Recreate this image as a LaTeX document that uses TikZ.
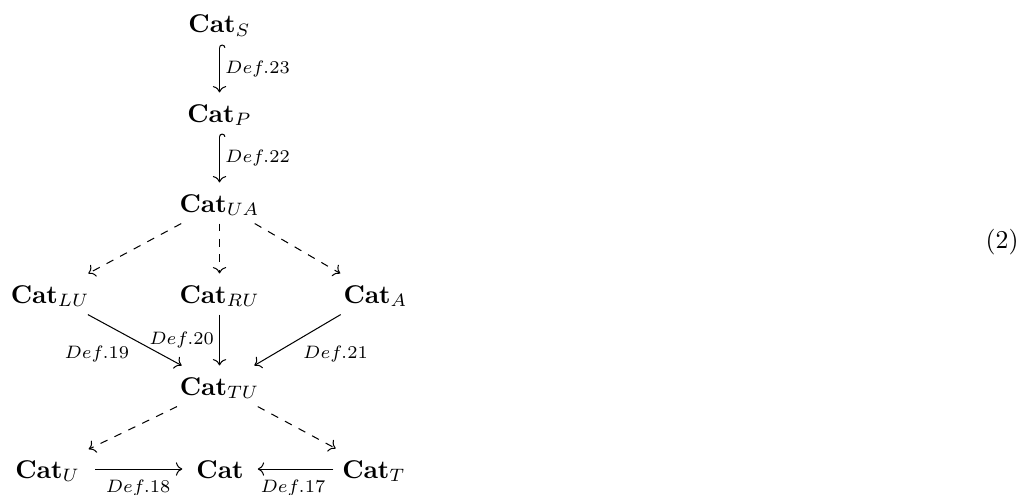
\documentclass[tikz,border=0pt]{standalone}
\usepackage{amsmath,amssymb,amsfonts}
\usepackage{xcolor}
\usetikzlibrary{arrows.meta,positioning}

\begin{document}
\begin{tikzpicture}[obj/.style={anchor=base, inner sep=3.3pt, text height=8pt, text depth=1pt},
  lbl/.style={font=\scriptsize, inner sep=2pt},
  >={Computer Modern Rightarrow}]
\useasboundingbox (0,0) rectangle (13.94,-6.758);
\node[obj] (cs) at (3.003,-0.451) {$\mathbf{Cat}_S$};
\node[obj] (cp) at (3.003,-1.669) {$\mathbf{Cat}_P$};
\node[obj] (cua) at (3.003,-2.900) {$\mathbf{Cat}_{UA}$};
\node[obj] (clu) at (0.684,-4.145) {$\mathbf{Cat}_{LU}$};
\node[obj] (cru) at (3.003,-4.145) {$\mathbf{Cat}_{RU}$};
\node[obj] (ca) at (5.137,-4.145) {$\mathbf{Cat}_A$};
\node[obj] (ctu) at (3.003,-5.404) {$\mathbf{Cat}_{TU}$};
\node[obj] (cu) at (0.650,-6.539) {$\mathbf{Cat}_U$};
\node[obj] (cc) at (3.010,-6.539) {$\mathbf{Cat}$};
\node[obj] (ct) at (5.116,-6.539) {$\mathbf{Cat}_T$};
\node[anchor=base east, inner sep=0pt] (eq) at (13.94,-3.393) {(2)};
\draw[{Hooks[right]}->] (cs) -- node[lbl, right] {$Def.23$} (cp);
\draw[{Hooks[right]}->] (cp) -- node[lbl, right] {$Def.22$} (cua);
\draw[->, dashed] (cua) -- (clu);
\draw[->, dashed] (cua) -- (cru);
\draw[->, dashed] (cua) -- (ca);
\draw[->] (clu) -- node[lbl, below left] {$Def.19$} (ctu);
\draw[->] (cru) -- node[lbl, left] {$Def.20$} (ctu);
\draw[->] (ca) -- node[lbl, below right] {$Def.21$} (ctu);
\draw[->, dashed] (ctu) -- (cu);
\draw[->, dashed] (ctu) -- (ct);
\draw[->, shorten <=2.5pt, shorten >=2pt] (cu) -- node[lbl, below, yshift=-2pt] {$Def.18$} (cc);
\draw[->, shorten >=2pt] (ct) -- node[lbl, below, yshift=-2pt] {$Def.17$} (cc);
\end{tikzpicture}
\end{document}
